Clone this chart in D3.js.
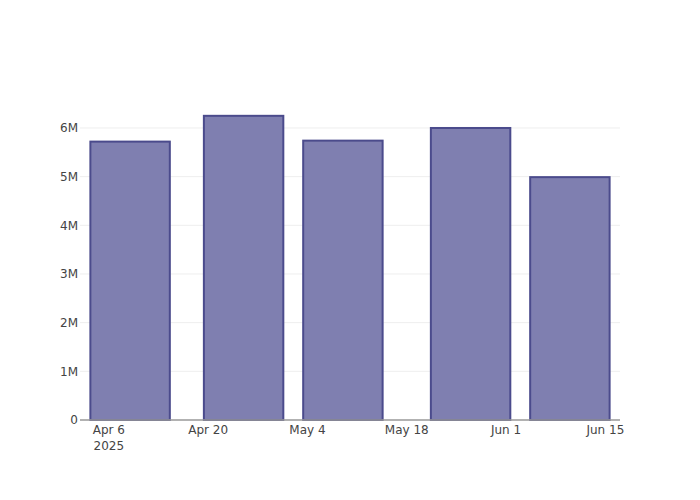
<!DOCTYPE html>
<html>
<head>
<meta charset="utf-8">
<script src="https://cdn.jsdelivr.net/npm/d3@7"></script>
<style>
  html, body { margin: 0; padding: 0; background: #fff; }
  svg { display: block; }
  text { font-family: "DejaVu Sans", sans-serif; }
</style>
</head>
<body>
<svg id="chart" width="700" height="500"></svg>
<script>
// ---- data ----
const dates = ["2025-04-09", "2025-04-25", "2025-05-09", "2025-05-27", "2025-06-10"];
const values = [5720000, 6250000, 5740000, 6000000, 4990000];
const xTickDates = ["2025-04-06", "2025-04-20", "2025-05-04", "2025-05-18", "2025-06-01", "2025-06-15"];
const xTickLabels = ["Apr 6", "Apr 20", "May 4", "May 18", "Jun 1", "Jun 15"];
const yTicks = [0, 1000000, 2000000, 3000000, 4000000, 5000000, 6000000];
const yTickLabels = ["0", "1M", "2M", "3M", "4M", "5M", "6M"];

// ---- layout ----
const W = 700, H = 500;
const M = { l: 80, r: 80, t: 100, b: 80 };
const pw = W - M.l - M.r, ph = H - M.t - M.b;

const parse = d3.utcParse("%Y-%m-%d");
const dts = dates.map(parse);

// bar width = 0.8 * min gap
let minGap = Infinity;
for (let i = 1; i < dts.length; i++) minGap = Math.min(minGap, dts[i] - dts[i - 1]);
const bw = 0.8 * minGap;
const lo = +dts[0] - bw / 2, hi = +dts[dts.length - 1] + bw / 2;
const pad = (hi - lo) * 0.02;

const x = d3.scaleUtc().domain([new Date(lo - pad), new Date(hi + pad)]).range([M.l, M.l + pw]);
const y = d3.scaleLinear().domain([0, d3.max(values) * 1.052]).range([M.t + ph, M.t]);

const svg = d3.select("#chart");

// gridlines
svg.append("g").selectAll("line").data(yTicks.filter(v => v > 0)).join("line")
  .attr("x1", M.l).attr("x2", M.l + pw)
  .attr("y1", d => y(d)).attr("y2", d => y(d))
  .attr("stroke", "#eeeeee").attr("stroke-width", 1);

// bars
svg.append("g").selectAll("rect").data(dts).join("rect")
  .attr("x", d => x(new Date(+d - bw / 2)))
  .attr("width", d => x(new Date(+d + bw / 2)) - x(new Date(+d - bw / 2)))
  .attr("y", (d, i) => y(values[i]))
  .attr("height", (d, i) => y(0) - y(values[i]))
  .attr("fill", "#7f7fb0")
  .attr("stroke", "#4b4b8c")
  .attr("stroke-width", 2);

// bottom axis line
svg.append("line")
  .attr("x1", M.l).attr("x2", M.l + pw)
  .attr("y1", y(0)).attr("y2", y(0))
  .attr("stroke", "#999").attr("stroke-width", 1.5);

// y tick labels
svg.append("g").selectAll("text").data(yTicks).join("text")
  .attr("x", M.l - 2)
  .attr("y", d => y(d))
  .attr("dy", "0.35em")
  .attr("text-anchor", "end")
  .attr("font-size", 12)
  .attr("fill", "#444")
  .text((d, i) => yTickLabels[i]);

// x tick labels
const xt = svg.append("g").selectAll("text").data(xTickDates).join("text")
  .attr("x", d => x(parse(d)))
  .attr("y", M.t + ph + 14)
  .attr("text-anchor", "middle")
  .attr("font-size", 12)
  .attr("fill", "#444");
xt.append("tspan").attr("x", d => x(parse(d))).text((d, i) => xTickLabels[i]);
xt.filter((d, i) => i === 0).append("tspan")
  .attr("x", d => x(parse(d))).attr("dy", 16).text("2025");
</script>
</body>
</html>
